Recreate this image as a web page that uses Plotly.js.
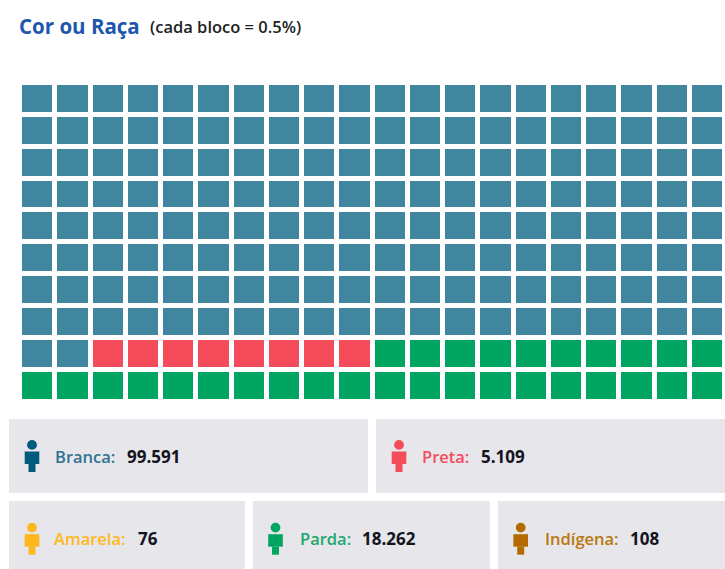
<!DOCTYPE html>
<html><head><meta charset="utf-8">
<script src="https://cdn.plot.ly/plotly-3.0.1.min.js"></script>
<style>html,body{margin:0;padding:0;background:#fff;overflow:hidden}</style></head>
<body><div id="chart" style="width:725px;height:569px"></div>
<script>
// Waffle: 0 = Branca, 1 = Preta, 2 = Parda
var blockRows = [
 [0,0,0,0,0,0,0,0,0,0,0,0,0,0,0,0,0,0,0,0],
 [0,0,0,0,0,0,0,0,0,0,0,0,0,0,0,0,0,0,0,0],
 [0,0,0,0,0,0,0,0,0,0,0,0,0,0,0,0,0,0,0,0],
 [0,0,0,0,0,0,0,0,0,0,0,0,0,0,0,0,0,0,0,0],
 [0,0,0,0,0,0,0,0,0,0,0,0,0,0,0,0,0,0,0,0],
 [0,0,0,0,0,0,0,0,0,0,0,0,0,0,0,0,0,0,0,0],
 [0,0,0,0,0,0,0,0,0,0,0,0,0,0,0,0,0,0,0,0],
 [0,0,0,0,0,0,0,0,0,0,0,0,0,0,0,0,0,0,0,0],
 [0,0,1,1,1,1,1,1,1,1,2,2,2,2,2,2,2,2,2,2],
 [2,2,2,2,2,2,2,2,2,2,2,2,2,2,2,2,2,2,2,2]
];
var blockColors = ['#3f869e','#f44c5a','#00a562'];
var groupNames  = ['Branca:','Preta:','Amarela:','Parda:','Indígena:'];
var groupValues = ['99.591','5.109','76','18.262','108'];
var groupColors = ['#005b7f','#f44c5a','#ffb81c','#00a562','#b36b00'];
var labelColors = ['#2f7390','#f44c5a','#ffb81c','#1fa86c','#b9770e'];
// panel layout (page pixels)
var panels = [[9,368,419,493],[376,725,419,493],[9,245,501,569],[253,490,501,569],[498,725,501,569]];
var iconX  = [32,399,32,275.5,520.7];
var nameX  = [54,421,53,299,544];
var valueX = [126,480,137,361,629];

var W=725,H=569;
function px(x){return x/W;}
function py(y){return 1-y/H;}
var shapes=[],ann=[];
function rect(x0,x1,y0,y1,c,type){
  shapes.push({type:type||'rect',xref:'paper',yref:'paper',x0:px(x0),x1:px(x1),y0:py(y0),y1:py(y1),
    fillcolor:c,line:{width:0},layer:'above'});
}
function text(x,y,s,size,color,weight){
  ann.push({xref:'paper',yref:'paper',x:px(x),y:py(y),xanchor:'left',yanchor:'middle',showarrow:false,
    text:s,align:'left',borderpad:0,
    font:{family:'"Open Sans", sans-serif',size:size,color:color,weight:weight||700}});
}
panels.forEach(function(p,i){
  rect(p[0],p[1],p[2],p[3],'#e6e6eb');
  var top=p[2]===419?440:522.7, cx=iconX[i], c=groupColors[i], mid=(p[2]===419?456:538);
  rect(cx-4.9,cx+4.9,top,top+9.8,c,'circle');
  rect(cx-7.3,cx+7.3,top+11.5,top+24,c);
  rect(cx-3.5,cx+3.5,top+24,top+32,c);
  text(nameX[i],mid,groupNames[i],16.5,labelColors[i],600);
  text(valueX[i],mid,groupValues[i],17,'#14141e',700);
});
text(18,26,'Cor ou Raça',20.5,'#1d57ad',700);
text(149,27,'(cada bloco = 0.5%)',16.5,'#222222',600);

Plotly.newPlot('chart',[{
  type:'heatmap',z:blockRows,xgap:5,ygap:5,zmin:0,zmax:2,showscale:false,hoverinfo:'skip',
  colorscale:[[0,blockColors[0]],[0.333,blockColors[0]],[0.333,blockColors[1]],[0.667,blockColors[1]],[0.667,blockColors[2]],[1,blockColors[2]]]
}],{
  width:W,height:H,margin:{l:0,r:0,t:0,b:0},paper_bgcolor:'#fff',plot_bgcolor:'#fff',showlegend:false,
  xaxis:{domain:[20/W,1],visible:false,range:[-0.5,19.5],fixedrange:true},
  yaxis:{domain:[1-401.5/H,1-83/H],visible:false,range:[9.5,-0.5],fixedrange:true},
  shapes:shapes,annotations:ann
},{displayModeBar:false,staticPlot:true});
</script></body></html>
